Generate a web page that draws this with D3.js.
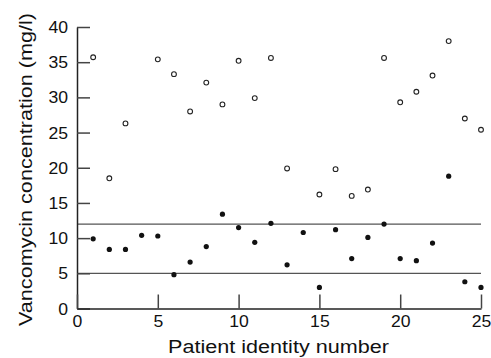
<!DOCTYPE html>
<html>
<head>
<meta charset="utf-8">
<script src="https://cdn.jsdelivr.net/npm/d3@7/dist/d3.min.js"></script>
<style>
  body { margin: 0; background: #fff; }
  svg text { font-family: "Liberation Sans", Arial, sans-serif; fill: #111; }
</style>
</head>
<body>
<div id="chart"></div>
<script>
// patient identity numbers
const patients = d3.range(1, 26);
// peak concentrations (open circles); null where no point is shown
const peak = [35.7, 18.5, 26.3, null, 35.4, 33.3, 28.0, 32.1, 29.0, 35.2,
              29.9, 35.6, 19.9, null, 16.2, 19.8, 16.0, 16.9, 35.6, 29.3,
              30.8, 33.1, 38.0, 27.0, 25.4];
// trough concentrations (filled circles)
const trough = [9.9, 8.4, 8.4, 10.4, 10.3, 4.8, 6.6, 8.8, 13.4, 11.5,
                9.4, 12.1, 6.2, 10.8, 3.0, 11.2, 7.1, 10.1, 12.0, 7.1,
                6.8, 9.3, 18.8, 3.8, 3.0];
// reference range lines
const refLines = [5, 12];
const xTicks = [0, 5, 10, 15, 20, 25];
const yTicks = [0, 5, 10, 15, 20, 25, 30, 35, 40];

const width = 491, height = 358;
const margin = { top: 27, right: 10, bottom: 50, left: 77 };
const plotRight = 481;
const stretch = 1.1; // tick labels in the reference are a little wide

const svg = d3.select('#chart').append('svg')
  .attr('width', width)
  .attr('height', height);

const x = d3.scaleLinear().domain([0, 25]).range([margin.left, plotRight]);
const y = d3.scaleLinear().domain([0, 40]).range([height - margin.bottom + 0.5, margin.top]);

// reference lines
svg.append('g')
  .selectAll('line')
  .data(refLines)
  .join('line')
    .attr('x1', x(0))
    .attr('x2', x(25))
    .attr('y1', d => y(d))
    .attr('y2', d => y(d))
    .attr('stroke', '#555')
    .attr('stroke-width', 1.3);

// axes with inward ticks
const yAxis = svg.append('g')
  .attr('transform', `translate(${x(0)},0)`)
  .call(d3.axisRight(y).tickValues(yTicks).tickSize(13).tickSizeOuter(0).tickFormat(d3.format('d')));
yAxis.select('.domain').attr('stroke', '#222').attr('stroke-width', 1.5);
yAxis.selectAll('.tick line').attr('stroke', '#444').attr('stroke-width', 1.5);
yAxis.selectAll('.tick text')
  .attr('x', 0)
  .attr('dy', '0.35em')
  .attr('transform', `translate(-9,0) scale(${stretch},1)`)
  .attr('text-anchor', 'end')
  .attr('font-size', 16);

const xAxis = svg.append('g')
  .attr('transform', `translate(0,${y(0)})`)
  .call(d3.axisTop(x).tickValues(xTicks).tickSize(14).tickSizeOuter(0).tickFormat(d3.format('d')));
xAxis.select('.domain').attr('stroke', '#222').attr('stroke-width', 1.5);
xAxis.selectAll('.tick line').attr('stroke', '#444').attr('stroke-width', 1.5);
xAxis.selectAll('.tick text')
  .attr('y', 0)
  .attr('dy', 0)
  .attr('transform', `translate(0,18.5) scale(${stretch},1)`)
  .attr('font-size', 16);
svg.selectAll('.tick text').attr('fill', '#111');

// axis titles
svg.append('text')
  .attr('x', 278.5)
  .attr('y', 353)
  .attr('text-anchor', 'middle')
  .attr('font-size', 17.5)
  .attr('textLength', 221)
  .attr('lengthAdjust', 'spacingAndGlyphs')
  .text('Patient identity number');

svg.append('text')
  .attr('transform', 'translate(32,169.5) rotate(-90)')
  .attr('text-anchor', 'middle')
  .attr('font-size', 18)
  .attr('textLength', 313)
  .attr('lengthAdjust', 'spacingAndGlyphs')
  .text('Vancomycin concentration (mg/l)');

// trough points (filled)
svg.append('g')
  .selectAll('circle')
  .data(patients.map((p, i) => ({ p, v: trough[i] })))
  .join('circle')
    .attr('cx', d => x(d.p))
    .attr('cy', d => y(d.v))
    .attr('r', 2.6)
    .attr('fill', '#111');

// peak points (open)
svg.append('g')
  .selectAll('circle')
  .data(patients.map((p, i) => ({ p, v: peak[i] })).filter(d => d.v != null))
  .join('circle')
    .attr('cx', d => x(d.p))
    .attr('cy', d => y(d.v))
    .attr('r', 2.4)
    .attr('fill', '#fff')
    .attr('stroke', '#222')
    .attr('stroke-width', 1.1);
</script>
</body>
</html>
